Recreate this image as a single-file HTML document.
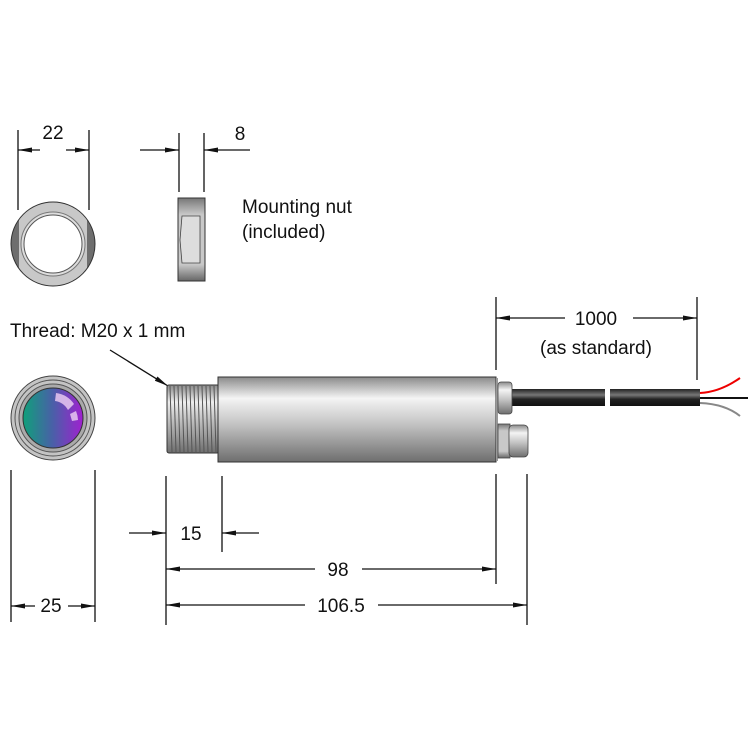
<!DOCTYPE html>
<html><head><meta charset="utf-8"><style>
html,body{margin:0;padding:0;background:#fff}
svg{display:block}
text{font-family:"Liberation Sans",Arial,sans-serif;font-size:19px;fill:#111}
</style></head><body>
<svg width="750" height="750" viewBox="0 0 750 750" xmlns="http://www.w3.org/2000/svg">
<defs>
<marker id="a" markerWidth="14" markerHeight="8" refX="14" refY="4" orient="auto" markerUnits="userSpaceOnUse"><path d="M0,1.5 L14,4 L0,6.5 Z" fill="#111"/></marker>
<linearGradient id="cyl" x1="0" y1="0" x2="0" y2="1">
<stop offset="0" stop-color="#8a8a8a"/><stop offset="0.25" stop-color="#f4f4f4"/><stop offset="0.55" stop-color="#c4c4c4"/><stop offset="1" stop-color="#6e6e6e"/></linearGradient>
<linearGradient id="thrg" gradientUnits="userSpaceOnUse" x1="0" y1="385" x2="0" y2="453">
<stop offset="0" stop-color="#8a8a8a"/><stop offset="0.25" stop-color="#eee"/><stop offset="0.55" stop-color="#bbb"/><stop offset="1" stop-color="#6e6e6e"/></linearGradient>
<linearGradient id="cab" x1="0" y1="0" x2="0" y2="1">
<stop offset="0" stop-color="#222"/><stop offset="0.35" stop-color="#777"/><stop offset="0.6" stop-color="#222"/><stop offset="1" stop-color="#111"/></linearGradient>
<linearGradient id="lens" x1="0" y1="0" x2="1" y2="0">
<stop offset="0" stop-color="#0fa07a"/><stop offset="0.5" stop-color="#4a5fa8"/><stop offset="1" stop-color="#a020d0"/></linearGradient>
<linearGradient id="nut" x1="0" y1="0" x2="0" y2="1">
<stop offset="0" stop-color="#777"/><stop offset="0.2" stop-color="#c8c8c8"/><stop offset="0.8" stop-color="#c8c8c8"/><stop offset="1" stop-color="#666"/></linearGradient>
</defs>
<g stroke="#111" stroke-width="1.3" fill="none">
<line x1="18" y1="130" x2="18" y2="210"/><line x1="89" y1="130" x2="89" y2="210"/>
<line x1="40" y1="150" x2="18" y2="150" marker-end="url(#a)"/><line x1="66" y1="150" x2="89" y2="150" marker-end="url(#a)"/>
<line x1="179" y1="133" x2="179" y2="192"/><line x1="204" y1="133" x2="204" y2="192"/>
<line x1="140" y1="150" x2="179" y2="150" marker-end="url(#a)"/><line x1="250" y1="150" x2="204" y2="150" marker-end="url(#a)"/>
<line x1="11" y1="470" x2="11" y2="622"/><line x1="95" y1="470" x2="95" y2="622"/>
<line x1="35" y1="606" x2="11" y2="606" marker-end="url(#a)"/><line x1="68" y1="606" x2="95" y2="606" marker-end="url(#a)"/>
<line x1="110" y1="350" x2="168" y2="386" marker-end="url(#a)"/>
<line x1="496" y1="297" x2="496" y2="370"/><line x1="697" y1="297" x2="697" y2="380"/>
<line x1="565" y1="318" x2="496" y2="318" marker-end="url(#a)"/><line x1="633" y1="318" x2="697" y2="318" marker-end="url(#a)"/>
<line x1="166" y1="476" x2="166" y2="625"/><line x1="222" y1="476" x2="222" y2="552"/>
<line x1="496" y1="474" x2="496" y2="584"/><line x1="527" y1="474" x2="527" y2="625"/>
<line x1="129" y1="533" x2="166" y2="533" marker-end="url(#a)"/><line x1="259" y1="533" x2="222" y2="533" marker-end="url(#a)"/>
<line x1="315" y1="569" x2="166" y2="569" marker-end="url(#a)"/><line x1="362" y1="569" x2="496" y2="569" marker-end="url(#a)"/>
<line x1="305" y1="605" x2="166" y2="605" marker-end="url(#a)"/><line x1="378" y1="605" x2="527" y2="605" marker-end="url(#a)"/>
</g>
<!-- nut front -->
<circle cx="53" cy="244" r="42" fill="#6e6e6e"/>
<path d="M19,219 A42,42 0 0 1 87,219 L87,269 A42,42 0 0 1 19,269 Z" fill="#c8c8c8"/>
<circle cx="53" cy="244" r="42" fill="none" stroke="#333" stroke-width="1"/>
<circle cx="53" cy="244" r="32" fill="#ddd" stroke="#777" stroke-width="1"/>
<circle cx="53" cy="244" r="29" fill="#fff" stroke="#555" stroke-width="1"/>
<!-- nut side -->
<rect x="178" y="198" width="27" height="83" fill="url(#nut)" stroke="#333" stroke-width="1"/>
<path d="M182,216 L200,216 L200,263 L182,263 L180,240 Z" fill="#ddd" stroke="#444" stroke-width="0.8"/>
<!-- lens front -->
<circle cx="53" cy="418" r="42" fill="#c4c4c4" stroke="#444" stroke-width="1"/>
<circle cx="53" cy="418" r="38" fill="none" stroke="#555" stroke-width="1"/>
<circle cx="53" cy="418" r="34" fill="#aaa" stroke="#555" stroke-width="1"/>
<circle cx="53" cy="418" r="30" fill="url(#lens)" stroke="#333" stroke-width="1"/>
<path d="M56,393 A26,26 0 0 1 74,404 L68,410 A18,18 0 0 0 55,401 Z" fill="#e8c8f0" opacity="0.85"/>
<path d="M70,414 L76,411 A26,26 0 0 1 78,420 L72,421 Z" fill="#e8c8f0" opacity="0.85"/>
<!-- sensor thread -->
<rect x="167" y="385" width="52" height="68" fill="url(#thrg)" stroke="#333" stroke-width="1" rx="2"/>
<g stroke="#555" stroke-width="1">
<line x1="170" y1="386" x2="172" y2="452"/><line x1="174" y1="386" x2="176" y2="452"/><line x1="178" y1="386" x2="180" y2="452"/>
<line x1="182" y1="386" x2="184" y2="452"/><line x1="186" y1="386" x2="188" y2="452"/><line x1="190" y1="386" x2="192" y2="452"/>
<line x1="194" y1="386" x2="196" y2="452"/><line x1="198" y1="386" x2="200" y2="452"/><line x1="202" y1="386" x2="204" y2="452"/>
<line x1="206" y1="386" x2="208" y2="452"/><line x1="210" y1="386" x2="212" y2="452"/><line x1="214" y1="386" x2="216" y2="452"/>
</g>
<rect x="218" y="377" width="278" height="85" fill="url(#cyl)" stroke="#333" stroke-width="1"/>
<rect x="496" y="378" width="2" height="83" fill="#999"/>
<!-- cable -->
<rect x="510" y="389" width="95" height="17" fill="url(#cab)"/>
<rect x="610" y="389" width="90" height="17" fill="url(#cab)"/>
<path d="M700,393 Q720,392 740,378" stroke="#e00" stroke-width="2" fill="none"/>
<line x1="700" y1="398" x2="748" y2="398" stroke="#111" stroke-width="2"/>
<path d="M700,403 Q725,404 740,416" stroke="#888" stroke-width="2" fill="none"/>
<!-- glands -->
<rect x="498" y="382" width="14" height="32" rx="3" fill="url(#cyl)" stroke="#444" stroke-width="0.8"/>
<rect x="498" y="424" width="12" height="34" fill="url(#nut)" stroke="#444" stroke-width="0.8"/>
<rect x="509" y="425" width="19" height="32" rx="4" fill="url(#cyl)" stroke="#444" stroke-width="0.8"/>
<!-- text -->
<text x="53" y="139" text-anchor="middle">22</text>
<text x="240" y="140" text-anchor="middle">8</text>
<text x="242" y="213">Mounting nut</text>
<text x="242" y="238">(included)</text>
<text x="10" y="337">Thread: M20 x 1 mm</text>
<text x="596" y="325" text-anchor="middle">1000</text>
<text x="596" y="354" text-anchor="middle">(as standard)</text>
<text x="51" y="612" text-anchor="middle">25</text>
<text x="191" y="540" text-anchor="middle">15</text>
<text x="338" y="576" text-anchor="middle">98</text>
<text x="341" y="612" text-anchor="middle">106.5</text>
</svg>
</body></html>
